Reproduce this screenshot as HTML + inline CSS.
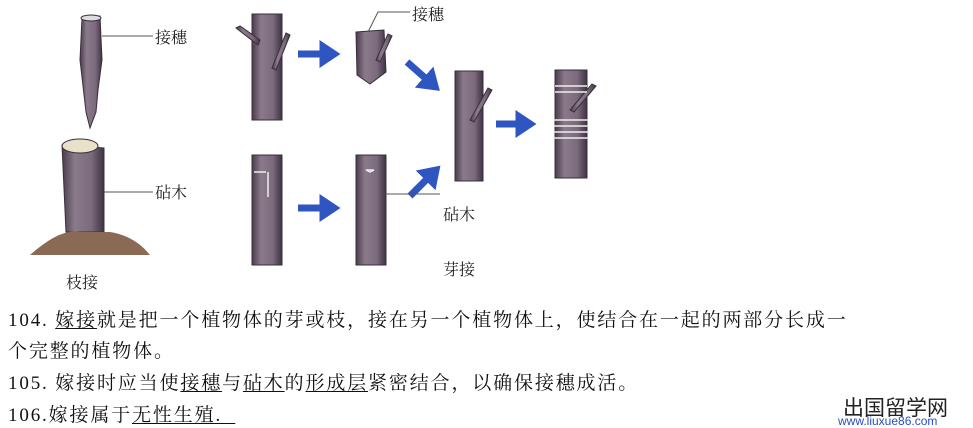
<!DOCTYPE html>
<html><head><meta charset="utf-8"><style>
body{margin:0;width:973px;height:428px;background:#fff;overflow:hidden;position:relative;font-family:"Liberation Serif","Noto Serif CJK SC",serif}
.t{position:absolute;left:8px;font-size:19px;color:#111;white-space:nowrap;letter-spacing:1.85px}
u{text-decoration:underline;text-underline-offset:2px}
</style></head><body>
<svg width="973" height="300" style="position:absolute;left:0;top:0" font-family="Liberation Serif, Noto Serif CJK SC, serif">
<defs>
<linearGradient id="g" x1="0" x2="1"><stop offset="0" stop-color="#4a3c4c"/><stop offset=".3" stop-color="#8a7a8a"/><stop offset=".7" stop-color="#7a6a7c"/><stop offset="1" stop-color="#3e3242"/></linearGradient>
<marker id="a" markerWidth="4" markerHeight="4" refX="1.5" refY="2" orient="auto"><path d="M0,0L3,2L0,4z" fill="#2f55c0"/></marker>
</defs>
<g fill="url(#g)" stroke="#3a2e3c" stroke-width="1">
<path d="M82,18 L100,16 L102,60 L98,90 L96,112 L90,128 L86,112 L80,60 Z"/>
<ellipse cx="91" cy="18" rx="10" ry="3" fill="#ddd"/>
<path d="M62,145 L104,148 L104,232 L66,232 Z"/>
<ellipse cx="80" cy="146" rx="18" ry="7" fill="#e8e0c8"/>
<path d="M30,255 Q60,228 80,232 L110,232 Q135,236 150,255 Z" fill="#8a6a55" stroke="none"/>
<rect x="252" y="14" width="30" height="106"/>
<path d="M258,45 L236,28 L240,26 L260,40 Z"/>
<path d="M272,68 L286,33 L290,35 L276,70 Z"/>
<path d="M356,32 L384,30 L386,72 L370,84 L357,75 Z"/>
<path d="M376,60 L388,34 L392,36 L380,62 Z"/>
<rect x="252" y="155" width="30" height="110"/>
<rect x="356" y="155" width="30" height="110"/>
<rect x="455" y="71" width="28" height="110"/>
<path d="M470,120 L488,88 L492,90 L474,122 Z"/>
<rect x="555" y="70" width="32" height="108"/>
<path d="M570,110 L592,84 L596,86 L574,112 Z"/>
</g>
<g stroke="#eee" stroke-width="1.5" fill="none">
<path d="M555,86h32M555,92h32M553,120h36M553,126h36M553,132h36M553,138h36"/>
</g>
<path d="M266,172h-12M268,172v25M370,172l-4,-2h8z" stroke="#eee" stroke-width="1.5" fill="none"/>
<g stroke="#2f55c0" stroke-width="7" fill="none" marker-end="url(#a)">
<line x1="298" y1="54" x2="330" y2="54"/>
<line x1="298" y1="208" x2="330" y2="208"/>
<line x1="496" y1="124" x2="526" y2="124"/>
<line x1="407" y1="62" x2="432" y2="84"/>
<line x1="410" y1="196" x2="433" y2="173"/>
</g>
<g stroke="#555" stroke-width="1" fill="none">
<path d="M102,36H153M104,192H153M385,194H440M368,32L378,12H410"/>
</g>
<g font-size="16" fill="#222">
<text x="155" y="43">接穗</text>
<text x="155" y="198">砧木</text>
<text x="66" y="288">枝接</text>
<text x="412" y="20">接穗</text>
<text x="443" y="220">砧木</text>
<text x="443" y="275">芽接</text>
</g>
</svg>
<div class="t" style="top:305px">104. <u>嫁接</u>就是把一个植物体的芽或枝，接在另一个植物体上，使结合在一起的两部分长成一</div>
<div class="t" style="top:336px">个完整的植物体。</div>
<div class="t" style="top:368px">105. 嫁接时应当使<u>接穗</u>与<u>砧木</u>的<u>形成层</u>紧密结合，以确保接穗成活。</div>
<div class="t" style="top:400px">106.嫁接属于<u>无性生殖.&nbsp;&nbsp;</u></div>
<div style="position:absolute;left:843px;top:392px;font-family:'Noto Sans CJK SC',sans-serif;font-size:21px;color:#222">出国留学网</div>
<div style="position:absolute;left:838px;top:414px;font-family:'Liberation Sans',sans-serif;font-size:12px;color:#2a4fbf">www.liuxue86.com</div>
</body></html>
